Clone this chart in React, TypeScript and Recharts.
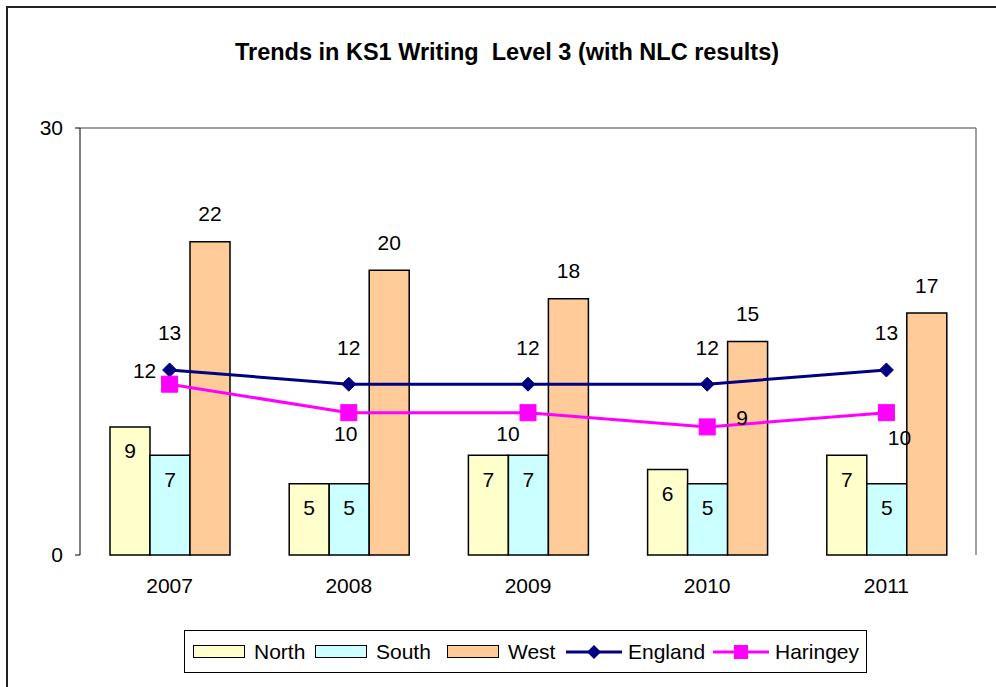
import React from 'react';
import { ComposedChart, Bar, Line, XAxis, YAxis, LabelList, ReferenceLine } from 'recharts';

const years = ['2007', '2008', '2009', '2010', '2011'];
const north = [9, 5, 7, 6, 7];
const south = [7, 5, 7, 5, 5];
const west = [22, 20, 18, 15, 17];
const england = [13, 12, 12, 12, 13];
const haringey = [12, 10, 10, 9, 10];
const yTicks = [0, 30];
const boundaryTicks = [0, 1, 2, 3, 4, 5];

const data = years.map((y, i) => ({
  year: y,
  idx: i + 0.5,
  North: north[i],
  South: south[i],
  West: west[i],
  England: england[i],
  Haringey: haringey[i],
}));

const FONT = '"Liberation Sans", Arial, sans-serif';
const FS = 21;
const C = {
  north: '#FFFFCC',
  south: '#CCFFFF',
  west: '#FFCC99',
  england: '#000080',
  haringey: '#FF00FF',
};

// label offsets (style) for Haringey labels
const harOffsets = [
  [-25, -14],
  [-3, 21],
  [-20, 21],
  [35, -9],
  [13, 25],
];

const Diamond = (props: any) => {
  const { cx, cy } = props;
  if (cx == null || cy == null) return null;
  const r = 7;
  return <path d={`M${cx},${cy - r}L${cx + r},${cy}L${cx},${cy + r}L${cx - r},${cy}Z`} fill={C.england} stroke={C.england} />;
};
const Square = (props: any) => {
  const { cx, cy } = props;
  if (cx == null || cy == null) return null;
  const r = 8;
  return <rect x={cx - r} y={cy - r} width={2 * r} height={2 * r} fill={C.haringey} stroke={C.haringey} />;
};

const txt = (x: number, y: number, value: any) => (
  <text x={x} y={y} textAnchor="middle" dominantBaseline="central" fontSize={FS} fontFamily={FONT} fill="#000">
    {value}
  </text>
);
const insideLabel = (props: any) => txt(props.x + props.width / 2, props.y + 24, props.value);
const aboveLabel = (props: any) => txt(props.x + props.width / 2, props.y - 28, props.value);
const engLabel = (props: any) => txt(props.x, props.y - 37, props.value);
const harLabel = (props: any) => {
  const o = harOffsets[props.index] || [0, 0];
  return txt(props.x + o[0], props.y + o[1], props.value);
};

const Swatch = ({ color }: { color: string }) => (
  <span style={{ display: 'inline-block', width: 52, height: 13, background: color, border: '1.5px solid #000', boxSizing: 'border-box', marginRight: 9 }} />
);
const LineSample = ({ color, shape }: { color: string; shape: 'diamond' | 'square' }) => (
  <svg width={58} height={20} style={{ marginRight: 5 }}>
    <line x1={1} y1={10} x2={57} y2={10} stroke={color} strokeWidth={3} />
    {shape === 'diamond' ? (
      <path d="M29,3L36,10L29,17L22,10Z" fill={color} />
    ) : (
      <rect x={22} y={3} width={14} height={14} fill={color} />
    )}
  </svg>
);

const legendItems = [
  { name: 'North', left: 8, el: <Swatch color={C.north} /> },
  { name: 'South', left: 130, el: <Swatch color={C.south} /> },
  { name: 'West', left: 262, el: <Swatch color={C.west} /> },
  { name: 'England', left: 380, el: <LineSample color={C.england} shape="diamond" /> },
  { name: 'Haringey', left: 527, el: <LineSample color={C.haringey} shape="square" /> },
];

export default function App() {
  return (
    <div style={{ position: 'absolute', left: 0, top: 0, width: 996, height: 687, background: '#fff', overflow: 'hidden', fontFamily: FONT }}>
      <div style={{ position: 'absolute', left: 0, top: 39, width: 1014, textAlign: 'center', fontWeight: 'bold', fontSize: 23.5, color: '#000' }}>
        Trends in KS1 Writing&nbsp; Level 3 (with NLC results)
      </div>
      <div style={{ position: 'absolute', left: 0, top: 0 }}>
        <ComposedChart width={996} height={687} data={data} margin={{ top: 128, right: 20, bottom: 102, left: 0 }} barGap={0} barCategoryGap="16.7%">
          <XAxis xAxisId="b" type="number" dataKey="idx" domain={[0, 5]} ticks={boundaryTicks} tick={false} tickSize={7} tickLine={{ stroke: '#000' }} axisLine={{ stroke: '#000' }} height={0} />
          <XAxis xAxisId="c" dataKey="year" tickLine={false} axisLine={false} tick={{ fontSize: FS, fill: '#000', fontFamily: FONT }} tickMargin={17} height={30} />
          <YAxis yAxisId="l" domain={[0, 30]} ticks={yTicks} width={80} tickSize={5} tickLine={{ stroke: '#000' }} axisLine={{ stroke: '#000' }} tick={{ fontSize: FS, fill: '#000', fontFamily: FONT }} tickMargin={12} />
          <ReferenceLine yAxisId="l" xAxisId="c" y={30} stroke="#808080" strokeWidth={1.5} />
          <ReferenceLine yAxisId="l" xAxisId="b" x={5} stroke="#808080" strokeWidth={1.5} />
          <Bar xAxisId="c" yAxisId="l" dataKey="North" fill={C.north} stroke="#000" strokeWidth={1.5} barSize={40} isAnimationActive={false}>
            <LabelList dataKey="North" content={insideLabel} />
          </Bar>
          <Bar xAxisId="c" yAxisId="l" dataKey="South" fill={C.south} stroke="#000" strokeWidth={1.5} barSize={40} isAnimationActive={false}>
            <LabelList dataKey="South" content={insideLabel} />
          </Bar>
          <Bar xAxisId="c" yAxisId="l" dataKey="West" fill={C.west} stroke="#000" strokeWidth={1.5} barSize={40} isAnimationActive={false}>
            <LabelList dataKey="West" content={aboveLabel} />
          </Bar>
          <Line xAxisId="c" yAxisId="l" dataKey="England" stroke={C.england} strokeWidth={3} dot={<Diamond />} activeDot={false} isAnimationActive={false}>
            <LabelList dataKey="England" content={engLabel} />
          </Line>
          <Line xAxisId="c" yAxisId="l" dataKey="Haringey" stroke={C.haringey} strokeWidth={3} dot={<Square />} activeDot={false} isAnimationActive={false}>
            <LabelList dataKey="Haringey" content={harLabel} />
          </Line>
        </ComposedChart>
      </div>
      <div
        style={{
          position: 'absolute', left: 184, top: 630, width: 683, height: 43, border: '1px solid #000', boxSizing: 'border-box',
          fontSize: FS, color: '#000',
        }}
      >
        {legendItems.map((it) => (
          <span key={it.name} style={{ position: 'absolute', left: it.left, top: 0, height: 41, display: 'flex', alignItems: 'center' }}>
            {it.el}
            {it.name}
          </span>
        ))}
      </div>
      <svg width={996} height={687} style={{ position: 'absolute', left: 0, top: 0, pointerEvents: 'none' }}>
        <path d="M7,687 V7 H996" stroke="#222" strokeWidth={2} fill="none" />
      </svg>
    </div>
  );
}
